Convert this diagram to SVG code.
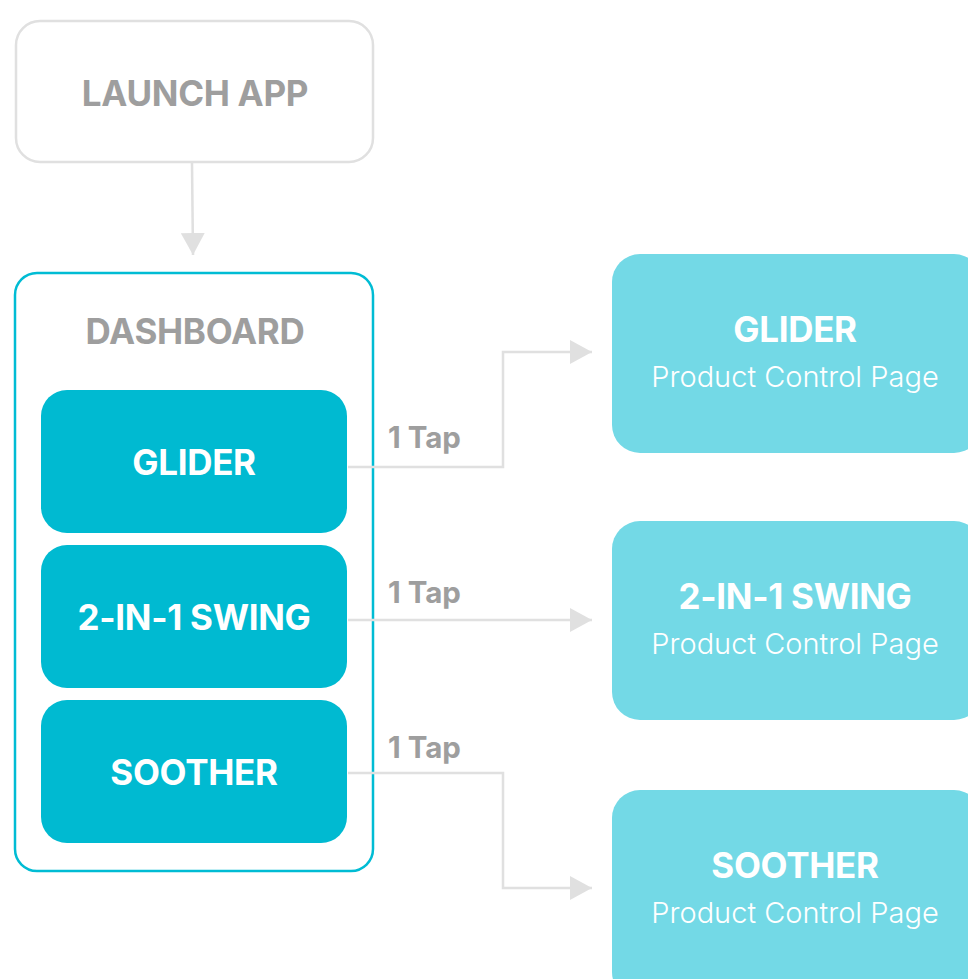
<svg xmlns="http://www.w3.org/2000/svg" width="968" height="979" viewBox="0 0 968 979">
  <defs>
    <marker id="arrow" markerWidth="24" markerHeight="24" refX="22" refY="12" orient="auto" markerUnits="userSpaceOnUse">
      <path d="M0,0 L22,12 L0,24 Z" fill="#e0e0e0"/>
    </marker>
    <style>
      .lbl { font-family: Inter, "Liberation Sans", sans-serif; font-weight: 700; font-size: 35px; text-anchor: middle; letter-spacing: -0.3px; }
      .grey { fill: #9e9e9e; }
      .white { fill: #ffffff; }
      .sub { font-family: Inter, "Liberation Sans", sans-serif; font-weight: 300; font-size: 29px; fill: #ffffff; text-anchor: middle; }
      .tap { font-family: Inter, "Liberation Sans", sans-serif; font-weight: 700; font-size: 29.5px; fill: #9e9e9e; }
      .conn { fill: none; stroke: #e0e0e0; stroke-width: 2.5; }
      .item { fill: #00bad1; }
      .page { fill: #73d9e6; }
    </style>
  </defs>

  <rect width="968" height="979" fill="#ffffff"/>

  <g id="launch-app">
    <rect x="16" y="21" width="357" height="141" rx="24" fill="#ffffff" stroke="#e0e0e0" stroke-width="2.5"/>
    <text class="lbl grey" x="195" y="106">LAUNCH APP</text>
  </g>

  <g id="dashboard">
    <rect x="15" y="273" width="358" height="598" rx="22" fill="#ffffff" stroke="#00bcd4" stroke-width="2.5"/>
    <text class="lbl grey" x="195" y="344">DASHBOARD</text>
  </g>

  <g id="dash-glider">
    <rect class="item" x="41" y="390" width="306" height="143" rx="26"/>
    <text class="lbl white" x="194" y="475">GLIDER</text>
  </g>

  <g id="dash-swing">
    <rect class="item" x="41" y="545" width="306" height="143" rx="26"/>
    <text class="lbl white" x="194" y="630">2-IN-1 SWING</text>
  </g>

  <g id="dash-soother">
    <rect class="item" x="41" y="700" width="306" height="143" rx="26"/>
    <text class="lbl white" x="194" y="785">SOOTHER</text>
  </g>

  <g id="page-glider">
    <rect class="page" x="612" y="254" width="370" height="199" rx="28"/>
    <text class="lbl white" x="795" y="342">GLIDER</text>
    <text class="sub" x="795" y="387">Product Control Page</text>
  </g>

  <g id="page-swing">
    <rect class="page" x="612" y="521" width="370" height="199" rx="28"/>
    <text class="lbl white" x="795" y="609">2-IN-1 SWING</text>
    <text class="sub" x="795" y="654">Product Control Page</text>
  </g>

  <g id="page-soother">
    <rect class="page" x="612" y="790" width="370" height="210" rx="28"/>
    <text class="lbl white" x="795" y="878">SOOTHER</text>
    <text class="sub" x="795" y="923">Product Control Page</text>
  </g>

  <!-- connectors, drawn over the dashboard frame -->
  <g id="connectors">
    <path class="conn" d="M192,163 L193,255" marker-end="url(#arrow)"/>
    <path class="conn" d="M348,467 L503,467 L503,352 L592,352" marker-end="url(#arrow)"/>
    <path class="conn" d="M348,620 L592,620" marker-end="url(#arrow)"/>
    <path class="conn" d="M348,773 L503,773 L503,888 L592,888" marker-end="url(#arrow)"/>
    <text class="tap" x="388" y="448">1 Tap</text>
    <text class="tap" x="388" y="603">1 Tap</text>
    <text class="tap" x="388" y="758">1 Tap</text>
  </g>
</svg>
